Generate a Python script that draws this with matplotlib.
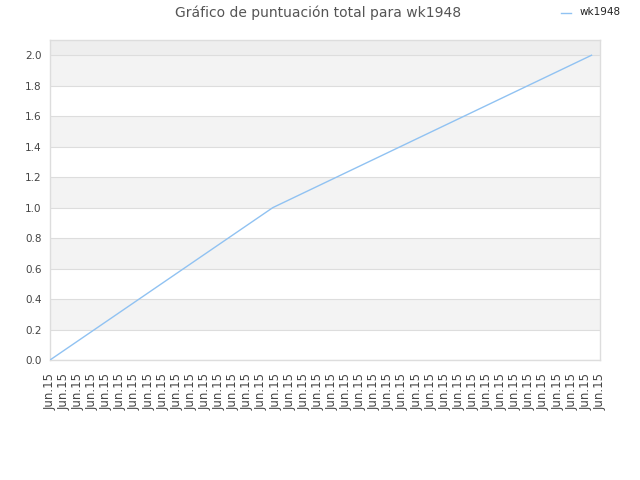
import matplotlib
matplotlib.use("Agg")
import matplotlib.pyplot as plt

# Data
tick_labels = ["Jun.15"] * 40
series_name = "wk1948"
x_values = [0.0, 15.8, 38.4]
y_values = [0.0, 1.0, 2.0]
title = "Gráfico de puntuación total para wk1948"

fig = plt.figure(figsize=(6.4, 4.8), dpi=100)
ax = fig.add_axes([50/640, 120/480, 550/640, 320/480])

ax.set_xlim(0, len(tick_labels) - 1)
ax.set_ylim(0, 2.1)

# background bands
ax.axhspan(2.0, 2.1, color="#eeeeee", zorder=0, lw=0)
for k in range(5):
    lo = 0.2 + 0.4 * k
    ax.axhspan(lo, lo + 0.2, color="#f3f3f3", zorder=0, lw=0)

yt = [round(0.2 * i, 1) for i in range(11)]
ax.set_yticks(yt)
ax.set_yticklabels([f"{v:.1f}" for v in yt])
for v in yt:
    ax.axhline(v, color="#dddddd", lw=0.8, zorder=1)

ax.plot(x_values, y_values, color="#90c2f2", lw=1.0, zorder=3, label=series_name)

ax.set_xticks(range(len(tick_labels)))
ax.set_xticklabels(tick_labels, rotation=90)

ax.tick_params(axis="y", length=0, labelsize=7.5, colors="#444444", pad=6)
ax.tick_params(axis="x", length=0, labelsize=8.5, colors="#444444", pad=9)
for s in ax.spines.values():
    s.set_color("#dddddd")
    s.set_linewidth(1.0)

fig.text(318/640, 1 - 13/480, title, ha="center", va="center", fontsize=10, color="#555555")

# legend
fig.lines.append(plt.Line2D([561/640, 571/640], [1 - 13/480, 1 - 13/480],
                            color="#90c2f2", lw=1.0, transform=fig.transFigure))
fig.text(580/640, 1 - 12/480, series_name, ha="left", va="center", fontsize=7.5, color="#222222")

fig.savefig("out.png", dpi=100)
